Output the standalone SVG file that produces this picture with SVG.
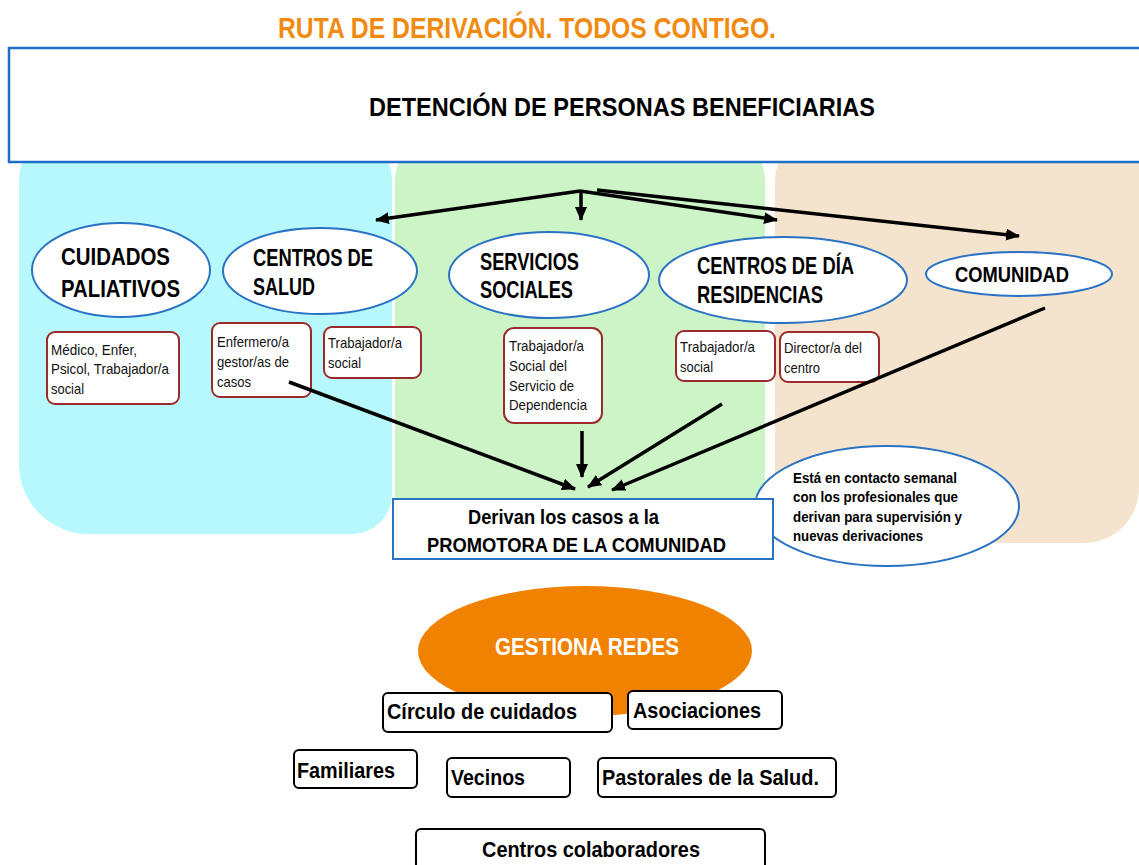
<svg xmlns="http://www.w3.org/2000/svg" width="1139" height="865" viewBox="0 0 1139 865">
<defs>
<style>
.h{font-family:"Liberation Sans Narrow","Liberation Sans",Arial,sans-serif;font-weight:bold;fill:#000}
.s{font-family:"Liberation Sans Narrow","Liberation Sans",Arial,sans-serif;font-size:14.5px;fill:#111}
.ell{fill:#fff;stroke:#2a72c4;stroke-width:2}
.sb{fill:#fff;stroke:#9b2b2b;stroke-width:2}
.bb{fill:#fff;stroke:#000;stroke-width:2}
.con{stroke:#000;stroke-width:3.5;fill:none}
</style>
<marker id="ah" markerUnits="userSpaceOnUse" markerWidth="14" markerHeight="12" refX="13" refY="6" orient="auto">
<path d="M0,0 L14,6 L0,12 z" fill="#000"/>
</marker>
</defs>
<rect width="1139" height="865" fill="#fff"/>
<g id="panels">
<path d="M19,179 A40,40 0 0 1 59,139 L352,139 A40,40 0 0 1 392,179 L392,494 A40,40 0 0 1 352,534 L89,534 A70,70 0 0 1 19,464 Z" fill="#b7f8fc"/>
<path d="M395,179 A40,40 0 0 1 435,139 L725,139 A40,40 0 0 1 765,179 L765,520 A30,30 0 0 1 735,550 L425,550 A30,30 0 0 1 395,520 Z" fill="#cdf4c7"/>
<path d="M775,179 A40,40 0 0 1 815,139 L1139,139 L1139,488 A55,55 0 0 1 1084,543 L795,543 A20,20 0 0 1 775,523 Z" fill="#f4e4ce"/>
</g>
<g id="title">
<text class="h" x="278" y="38" font-size="30" style="fill:#f08a10" textLength="498" lengthAdjust="spacingAndGlyphs">RUTA DE DERIVACIÓN. TODOS CONTIGO.</text>
</g>
<g id="detencion">
<rect x="9" y="48" width="1140" height="114" fill="#fff" stroke="#1f6fc8" stroke-width="2.5"/>
<text class="h" x="369" y="116" font-size="26" textLength="506" lengthAdjust="spacingAndGlyphs">DETENCIÓN DE PERSONAS BENEFICIARIAS</text>
</g>
<g id="cuidados">
<ellipse class="ell" cx="121" cy="270" rx="89" ry="47"/>
<text class="h" x="61" y="265" font-size="24" textLength="109" lengthAdjust="spacingAndGlyphs">CUIDADOS</text>
<text class="h" x="61" y="297" font-size="24" textLength="119" lengthAdjust="spacingAndGlyphs">PALIATIVOS</text>
</g>
<g id="salud">
<ellipse class="ell" cx="320" cy="271" rx="97" ry="43"/>
<text class="h" x="253" y="266" font-size="23" textLength="120" lengthAdjust="spacingAndGlyphs">CENTROS DE</text>
<text class="h" x="253" y="295" font-size="23" textLength="62" lengthAdjust="spacingAndGlyphs">SALUD</text>
</g>
<g id="servicios">
<ellipse class="ell" cx="549" cy="275" rx="100" ry="43"/>
<text class="h" x="480" y="270" font-size="23" textLength="99" lengthAdjust="spacingAndGlyphs">SERVICIOS</text>
<text class="h" x="480" y="298" font-size="23" textLength="93" lengthAdjust="spacingAndGlyphs">SOCIALES</text>
</g>
<g id="centrosdia">
<ellipse class="ell" cx="783" cy="280" rx="124" ry="43"/>
<text class="h" x="697" y="274" font-size="23" textLength="157" lengthAdjust="spacingAndGlyphs">CENTROS DE DÍA</text>
<text class="h" x="697" y="303" font-size="23" textLength="126" lengthAdjust="spacingAndGlyphs">RESIDENCIAS</text>
</g>
<g id="comunidad">
<ellipse class="ell" cx="1019" cy="274" rx="93" ry="22"/>
<text class="h" x="955" y="282" font-size="22" textLength="114" lengthAdjust="spacingAndGlyphs">COMUNIDAD</text>
</g>
<g id="box-medico">
<rect class="sb" x="47" y="332" width="132" height="72" rx="8"/>
<text class="s" x="51" y="355" textLength="86" lengthAdjust="spacingAndGlyphs">Médico, Enfer,</text>
<text class="s" x="51" y="374" textLength="118" lengthAdjust="spacingAndGlyphs">Psicol, Trabajador/a</text>
<text class="s" x="51" y="394" textLength="33" lengthAdjust="spacingAndGlyphs">social</text>
</g>
<g id="box-enfermero">
<rect class="sb" x="212" y="323" width="99" height="74" rx="8"/>
<text class="s" x="217" y="347" textLength="72" lengthAdjust="spacingAndGlyphs">Enfermero/a</text>
<text class="s" x="217" y="367" textLength="72" lengthAdjust="spacingAndGlyphs">gestor/as de</text>
<text class="s" x="217" y="387" textLength="34" lengthAdjust="spacingAndGlyphs">casos</text>
</g>
<g id="box-ts-salud">
<rect class="sb" x="324" y="327" width="97" height="51" rx="8"/>
<text class="s" x="328" y="348" textLength="74" lengthAdjust="spacingAndGlyphs">Trabajador/a</text>
<text class="s" x="328" y="368" textLength="33" lengthAdjust="spacingAndGlyphs">social</text>
</g>
<g id="box-dependencia">
<rect class="sb" x="504" y="328" width="98" height="95" rx="10"/>
<text class="s" x="509" y="351" textLength="75" lengthAdjust="spacingAndGlyphs">Trabajador/a</text>
<text class="s" x="509" y="371" textLength="58" lengthAdjust="spacingAndGlyphs">Social del</text>
<text class="s" x="509" y="391" textLength="65" lengthAdjust="spacingAndGlyphs">Servicio de</text>
<text class="s" x="509" y="410" textLength="78" lengthAdjust="spacingAndGlyphs">Dependencia</text>
</g>
<g id="box-ts-dia">
<rect class="sb" x="676" y="331" width="99" height="50" rx="8"/>
<text class="s" x="680" y="352" textLength="75" lengthAdjust="spacingAndGlyphs">Trabajador/a</text>
<text class="s" x="680" y="372" textLength="33" lengthAdjust="spacingAndGlyphs">social</text>
</g>
<g id="box-director">
<rect class="sb" x="780" y="332" width="99" height="50" rx="8"/>
<text class="s" x="784" y="353" textLength="78" lengthAdjust="spacingAndGlyphs">Director/a del</text>
<text class="s" x="784" y="373" textLength="36" lengthAdjust="spacingAndGlyphs">centro</text>
</g>
<g id="connectors">
<line class="con" x1="580" y1="191" x2="376" y2="220" marker-end="url(#ah)"/>
<line class="con" x1="581" y1="191" x2="581" y2="220" marker-end="url(#ah)"/>
<line class="con" x1="580" y1="191" x2="777" y2="220" marker-end="url(#ah)"/>
<line class="con" x1="597" y1="190" x2="1019" y2="236" marker-end="url(#ah)"/>
<line class="con" x1="289" y1="382" x2="575" y2="489" marker-end="url(#ah)"/>
<line class="con" x1="582" y1="431" x2="582" y2="477" marker-end="url(#ah)"/>
<line class="con" x1="722" y1="404" x2="588" y2="487" marker-end="url(#ah)"/>
<line class="con" x1="1045" y1="308" x2="612" y2="490" marker-end="url(#ah)"/>
</g>
<g id="nota">
<ellipse class="ell" cx="887" cy="506" rx="132" ry="60"/>
<text class="h" x="793" y="483" font-size="15" textLength="164" lengthAdjust="spacingAndGlyphs">Está en contacto semanal</text>
<text class="h" x="793" y="502" font-size="15" textLength="165" lengthAdjust="spacingAndGlyphs">con los profesionales que</text>
<text class="h" x="793" y="522" font-size="15" textLength="169" lengthAdjust="spacingAndGlyphs">derivan para supervisión y</text>
<text class="h" x="793" y="541" font-size="15" textLength="130" lengthAdjust="spacingAndGlyphs">nuevas derivaciones</text>
</g>
<g id="derivan">
<rect x="393" y="499" width="380" height="60" fill="#fff" stroke="#2a72c4" stroke-width="2"/>
<text class="h" x="468" y="524" font-size="21" textLength="191" lengthAdjust="spacingAndGlyphs">Derivan los casos a la</text>
<text class="h" x="427" y="552" font-size="21" textLength="299" lengthAdjust="spacingAndGlyphs">PROMOTORA DE LA COMUNIDAD</text>
</g>
<g id="gestiona">
<ellipse cx="585" cy="651" rx="167" ry="65" fill="#f08200"/>
<text class="h" x="495" y="655" font-size="23" style="fill:#fff" textLength="184" lengthAdjust="spacingAndGlyphs">GESTIONA REDES</text>
</g>
<g id="circulo">
<rect class="bb" x="383" y="693" width="229" height="39" rx="5"/>
<text class="h" x="387" y="719" font-size="22" textLength="190" lengthAdjust="spacingAndGlyphs">Círculo de cuidados</text>
</g>
<g id="asociaciones">
<rect class="bb" x="628" y="691" width="154" height="38" rx="5"/>
<text class="h" x="633" y="718" font-size="22" textLength="128" lengthAdjust="spacingAndGlyphs">Asociaciones</text>
</g>
<g id="familiares">
<rect class="bb" x="294" y="750" width="123" height="38" rx="5"/>
<text class="h" x="297" y="778" font-size="22" textLength="98" lengthAdjust="spacingAndGlyphs">Familiares</text>
</g>
<g id="vecinos">
<rect class="bb" x="447" y="758" width="123" height="39" rx="5"/>
<text class="h" x="451" y="785" font-size="22" textLength="74" lengthAdjust="spacingAndGlyphs">Vecinos</text>
</g>
<g id="pastorales">
<rect class="bb" x="598" y="758" width="238" height="39" rx="5"/>
<text class="h" x="602" y="785" font-size="22" textLength="217" lengthAdjust="spacingAndGlyphs">Pastorales de la Salud.</text>
</g>
<g id="centros-colaboradores">
<rect class="bb" x="416" y="829" width="349" height="50" rx="5"/>
<text class="h" x="482" y="857" font-size="22" textLength="218" lengthAdjust="spacingAndGlyphs">Centros colaboradores</text>
</g>
</svg>
